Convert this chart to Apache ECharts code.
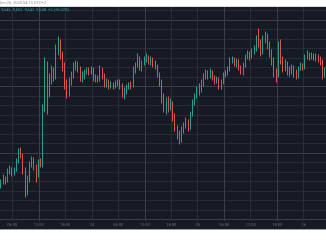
<!DOCTYPE html>
<html><head><meta charset="utf-8">
<script src="https://cdn.jsdelivr.net/npm/echarts@6/dist/echarts.min.js"></script>
<style>html,body{margin:0;padding:0;background:#fff}#c{width:326px;height:245px}</style>
</head><body><div id="c"></div>
<script>
// 30-minute candles, Jun 23 03:00 (UTC+2) onwards
const opens = [9534,9537,9542,9538,9547,9550,9546,9549,9558,9567,9564,9550,9528,9540,9554,9560,9552,9544,9557,9555,
9610,9652,9630,9640,9647,9642,9670,9676,9665,9654,9635,9625,9638,9643,9653,9655,9650,9642,9644,9648,
9649,9647,9650,9641,9642,9640,9648,9644,9636,9638,9633,9635,9634,9636,9638,9634,9625,9628,9632,9635,
9634,9648,9654,9660,9652,9656,9660,9662,9658,9660,9656,9653,9645,9638,9622,9614,9618,9612,9616,9603,
9592,9585,9580,9589,9593,9596,9592,9605,9616,9623,9628,9630,9636,9642,9646,9643,9647,9642,9638,9640,
9634,9637,9644,9646,9650,9658,9660,9656,9658,9652,9648,9654,9662,9665,9663,9667,9670,9680,9675,9668,
9680,9683,9675,9668,9660,9648,9644,9665,9660,9652,9656,9650,9648,9651,9646,9644,9650,9653,9652,9662,
9665,9663,9664,9662,9663,9660,9658,9646];
const closes = [9537,9542,9538,9547,9550,9546,9549,9558,9567,9564,9550,9528,9540,9554,9560,9552,9544,9557,9555,9610,
9652,9630,9640,9647,9642,9670,9676,9665,9654,9635,9625,9638,9643,9653,9655,9650,9642,9644,9648,9649,
9647,9650,9641,9642,9640,9648,9644,9636,9638,9633,9635,9634,9636,9638,9634,9625,9628,9632,9635,9634,
9648,9654,9660,9652,9656,9660,9662,9658,9660,9656,9653,9645,9638,9622,9614,9618,9612,9616,9603,9592,
9585,9580,9589,9593,9596,9592,9605,9616,9623,9628,9630,9636,9642,9646,9643,9647,9642,9638,9640,9634,
9637,9644,9646,9650,9658,9660,9656,9658,9652,9648,9654,9662,9665,9663,9667,9670,9680,9675,9668,9680,
9683,9675,9668,9660,9648,9644,9665,9660,9652,9656,9650,9648,9651,9646,9644,9650,9653,9652,9662,9665,
9663,9664,9662,9663,9660,9658,9646,9648];
const lows = [9531,9535,9535,9537,9545,9543,9544,9548,9556,9561,9545,9522,9524,9537,9552,9549,9537,9542,9552,9552,
9607,9605,9622,9635,9638,9640,9664,9660,9648,9630,9621,9623,9634,9641,9649,9647,9638,9637,9640,9645,
9644,9645,9638,9637,9637,9638,9640,9632,9632,9630,9631,9630,9631,9633,9630,9622,9620,9625,9630,9630,
9632,9646,9652,9649,9648,9654,9657,9655,9654,9652,9650,9642,9633,9616,9607,9605,9607,9609,9598,9588,
9580,9575,9577,9586,9591,9588,9590,9603,9614,9621,9624,9627,9633,9640,9640,9641,9639,9635,9636,9630,
9630,9635,9642,9644,9648,9656,9653,9652,9649,9645,9644,9652,9660,9659,9661,9665,9668,9672,9663,9665,
9676,9670,9662,9654,9642,9637,9642,9655,9647,9648,9644,9643,9645,9642,9640,9641,9649,9649,9650,9660,
9659,9660,9659,9658,9657,9654,9640,9642];
const highs = [9540,9545,9543,9551,9554,9552,9552,9561,9571,9572,9566,9552,9544,9558,9563,9562,9555,9560,9561,9615,
9662,9658,9646,9654,9652,9675,9683,9680,9668,9657,9640,9642,9648,9657,9659,9658,9653,9648,9650,9652,
9652,9653,9652,9645,9644,9654,9652,9646,9641,9640,9638,9637,9639,9640,9640,9636,9632,9635,9637,9638,
9653,9657,9666,9663,9659,9663,9666,9664,9663,9662,9659,9655,9647,9640,9626,9622,9623,9621,9618,9606,
9594,9589,9593,9597,9602,9600,9608,9620,9626,9633,9636,9640,9646,9650,9649,9651,9649,9644,9643,9642,
9640,9647,9649,9653,9662,9663,9662,9661,9660,9654,9657,9665,9669,9668,9671,9674,9684,9691,9680,9684,
9688,9686,9678,9670,9662,9651,9678,9680,9663,9660,9658,9653,9655,9654,9650,9653,9657,9656,9665,9669,
9667,9667,9666,9666,9665,9663,9660,9652];
// time axis labels (every 6 hours from Jun 23 06:00)
const tickHours = [6,12,18,24,30,36,42,48,54,60,66,72];
const tickLabels = ['06:00','12:00','18:00','24','06:00','12:00','18:00','25','06:00','12:00','18:00','26'];
const headerText = 'Jun 26, 2020 04:13 UTC+2';
const legendText = '9,646  9,652  9,642  9,648  +2 (+0.02%)';

const categories = opens.map((_, i) => {
  const h = 3 + i * 0.5;
  const d = 23 + Math.floor(h / 24);
  const hh = Math.floor(h % 24), mm = (h % 1) ? '30' : '00';
  return 'Jun ' + d + ' ' + String(hh).padStart(2, '0') + ':' + mm;
});
const candleData = opens.map((o, i) => [o, closes[i], lows[i], highs[i]]);

const chart = echarts.init(document.getElementById('c'), null, {renderer: 'canvas'});
const hGrid = ['#3b3f4a','#272b36','#272b36','#272b36','#272b36','#272b36','#272b36'];
const vGrid = ['#2a2e39','#3b3f4a','#2a2e39','#2a2e39','#2a2e39','#3b3f4a','#2a2e39','#2a2e39','#3b3f4a','#2a2e39','#3b3f4a','#2a2e39'];
chart.setOption({
  animation: false,
  backgroundColor: '#ffffff',
  graphic: [
    {type: 'rect', shape: {x: 0, y: 7, width: 326, height: 222}, style: {fill: '#161a25'}, z: -10, silent: true},
    {type: 'rect', shape: {x: 0, y: 6, width: 326, height: 1}, style: {fill: '#d9dbe0'}, z: 10, silent: true},
    {type: 'rect', shape: {x: 0, y: 229, width: 326, height: 1}, style: {fill: '#9a9ca3'}, z: 10, silent: true},
    {type: 'text', left: -1, top: 1, style: {text: headerText, fontSize: 4, fill: '#8a8d95', fontFamily: 'Roboto'}, z: 10},
    {type: 'text', left: 1, top: 8, style: {text: legendText, fontSize: 4, fill: '#26a69a', fontFamily: 'Roboto'}, z: 10}
  ],
  grid: [
    {left: 0, right: 0, top: 10.5, bottom: 25.5},
    {left: 12.3, right: 22.3, top: 7, bottom: 24}
  ],
  xAxis: [
    {type: 'category', gridIndex: 0, data: categories, boundaryGap: true,
     axisLine: {show: false}, axisTick: {show: false}, axisLabel: {show: false}, splitLine: {show: false}},
    {type: 'value', gridIndex: 1, min: tickHours[0], max: tickHours[tickHours.length - 1], interval: 6,
     axisLine: {show: false}, axisTick: {show: false},
     axisLabel: {show: true, fontSize: 4, color: '#6a6d76', margin: 2, fontFamily: 'Roboto',
       formatter: v => tickLabels[tickHours.indexOf(v)] || ''},
     splitLine: {show: true, lineStyle: {color: vGrid, width: 1}}}
  ],
  yAxis: [
    {type: 'value', gridIndex: 0, min: 9500, max: 9709, interval: 9.5, scale: true,
     axisLine: {show: false}, axisTick: {show: false}, axisLabel: {show: false},
     splitLine: {show: true, lineStyle: {color: hGrid, width: 1}}},
    {type: 'value', gridIndex: 1, min: 0, max: 1, show: false, splitLine: {show: false}}
  ],
  series: [{
    type: 'candlestick', xAxisIndex: 0, yAxisIndex: 0, data: candleData,
    barMaxWidth: 1.2,
    itemStyle: {color: '#2a9d90', color0: '#d9534f', borderColor: '#2a9d90', borderColor0: '#d9534f', borderWidth: 1}
  }]
});
</script></body></html>
